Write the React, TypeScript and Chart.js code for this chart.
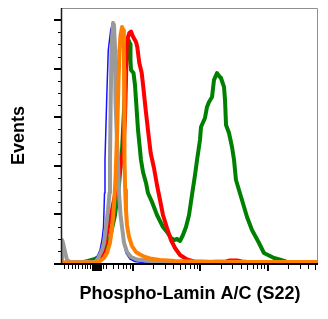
import React, { useEffect, useRef } from "react";
import { Chart, registerables } from "chart.js";

Chart.register(...registerables);

// ---- Data (x in log10 display units of the fluorescence axis, y in % of max events) ----
const blueX = [-0.055, 0.361, 0.406, 0.465, 0.51, 0.54, 0.562, 0.577, 0.584, 0.609, 0.633, 0.669, 0.703, 0.733, 0.748, 0.762, 0.777, 0.792, 0.822, 0.852, 0.896, 0.956, 1.03, 1.179, 3.75];
const blueY = [0, 0, 0.21, 2.47, 5.35, 9.47, 14.82, 28.82, 42.41, 67.12, 87.7, 95.94, 99.23, 95.94, 83.59, 67.12, 46.53, 30.06, 17.71, 9.47, 4.12, 1.65, 0.62, 0, 0];

const grayX = [-0.055, -0.055, -0.04, -0.01, 0.019, 0.064, 0.435, 0.48, 0.54, 0.569, 0.599, 0.629, 0.651, 0.658, 0.669, 0.681, 0.703, 0.718, 0.733, 0.74, 0.762, 0.777, 0.792, 0.815, 0.837, 0.867, 0.911, 0.971, 1.06, 1.253, 1.55, 1.996, 3.75];
const grayY = [0.41, 9.47, 8.24, 4.53, 1.24, 0.41, 0.41, 1.85, 5.35, 8.24, 14.82, 21.82, 28.82, 42.41, 67.12, 87.7, 98.82, 98.0, 87.7, 67.12, 50.65, 42.41, 28.82, 19.76, 14.82, 8.24, 4.53, 2.47, 1.44, 0.82, 0.41, 0.21, 0.21];

const orangeX = [-0.055, 0.435, 0.51, 0.569, 0.614, 0.658, 0.688, 0.718, 0.74, 0.755, 0.77, 0.785, 0.8, 0.815, 0.837, 0.852, 0.864, 0.867, 0.87, 0.874, 0.878, 0.884, 0.896, 0.911, 0.941, 0.985, 1.045, 1.104, 1.179, 1.253, 1.402, 1.625, 1.996, 2.739, 3.75];
const orangeY = [0.21, 0.21, 0.82, 2.06, 4.12, 8.24, 14.41, 23.88, 34.18, 46.53, 58.88, 75.35, 87.7, 93.88, 97.18, 95.94, 89.76, 79.47, 67.12, 54.76, 42.41, 30.06, 21.82, 15.65, 10.71, 7.0, 4.53, 3.5, 2.47, 1.85, 1.24, 0.82, 0.54, 0.41, 0.41];

const redX = [0.406, 0.465, 0.51, 0.554, 0.584, 0.629, 0.688, 0.748, 0.807, 0.852, 0.881, 0.896, 0.907, 0.926, 0.945, 0.971, 0.996, 1.02, 1.045, 1.064, 1.094, 1.13, 1.153, 1.189, 1.228, 1.263, 1.312, 1.357, 1.402, 1.446, 1.506, 1.565, 1.625, 1.699, 1.803, 1.907, 2.145, 2.383, 2.442, 2.546, 2.62, 2.739];
const redY = [0, 0.41, 1.24, 4.12, 8.24, 14.82, 21.82, 30.06, 38.29, 46.53, 58.88, 75.35, 89.76, 93.06, 94.71, 95.32, 93.47, 92.24, 91.0, 88.94, 82.35, 78.24, 72.47, 63.0, 53.53, 45.29, 39.12, 32.12, 25.94, 19.76, 14.41, 9.47, 6.18, 3.29, 1.44, 0.62, 0.41, 0.62, 1.03, 1.03, 0.62, 0.29];

const greenX = [-0.055, 0.213, 0.331, 0.435, 0.51, 0.584, 0.658, 0.733, 0.792, 0.837, 0.867, 0.896, 0.911, 0.933, 0.956, 0.963, 0.971, 1.008, 1.03, 1.045, 1.075, 1.119, 1.149, 1.194, 1.223, 1.283, 1.357, 1.446, 1.506, 1.565, 1.61, 1.654, 1.699, 1.743, 1.788, 1.833, 1.877, 1.922, 1.952, 1.996, 2.011, 2.07, 2.1, 2.13, 2.175, 2.204, 2.249, 2.279, 2.308, 2.353, 2.368, 2.383, 2.427, 2.472, 2.502, 2.531, 2.62, 2.695, 2.769, 2.873, 2.947, 3.096, 3.2, 3.289, 3.378, 3.75];
const greenY = [0, 0.16, 0.82, 1.65, 2.88, 5.35, 10.29, 19.76, 32.12, 46.53, 63.0, 79.47, 88.53, 91.82, 90.17, 83.59, 79.47, 78.24, 73.29, 67.12, 54.76, 42.41, 37.47, 32.94, 28.82, 25.12, 19.76, 14.82, 12.76, 10.29, 9.47, 9.88, 9.06, 11.53, 14.82, 19.76, 28.0, 36.24, 42.41, 50.65, 56.0, 59.71, 64.23, 66.29, 68.35, 75.35, 78.24, 77.0, 76.18, 72.47, 67.12, 56.82, 53.53, 47.76, 42.41, 34.18, 25.94, 18.94, 13.59, 8.24, 4.12, 2.06, 1.24, 0.41, 0, 0];

// ---- Axis ticks ----
const yMajorTicks = [0, 20, 40, 60, 80, 100];
const yMinorTicks = [5, 10, 15, 25, 30, 35, 45, 50, 55, 65, 70, 75, 85, 90, 95];
const xMajorTicks = [0.4, 0.42, 0.44, 0.46, 0.48, 0.5, 0.52, 1, 2, 3];
const xMediumTicks = [1.699, 2.699, 3.699];
const xMinorTicks = [
  -0.02, 0.04, 0.1, 0.14, 0.18, 0.24, 0.28, 0.32, 0.36,
  0.56, 0.602, 0.699, 0.778, 0.845, 0.903, 0.954,
  1.301, 1.477, 1.602, 1.778, 1.845, 1.903, 1.954,
  2.301, 2.477, 2.602, 2.778, 2.845, 2.903, 2.954,
  3.301, 3.477, 3.602,
];

const xTitle = "Phospho-Lamin A/C (S22)";
const yTitle = "Events";
const X_MIN = -0.055;
const X_MAX = 3.75;
const Y_MIN = 0;
const Y_MAX = 105;

const FONT = "Arial, 'Liberation Sans', Helvetica, sans-serif";

function pts(xs: number[], ys: number[]) {
  return xs.map((x, i) => ({ x, y: ys[i] }));
}

const flowAxes = {
  id: "flowAxes",
  afterDatasetsDraw(chart: any) {
    const { ctx, chartArea: a, scales } = chart;
    const xs = scales.x;
    const ys = scales.y;
    ctx.save();
    // top / right frame
    ctx.strokeStyle = "#8f8f8f";
    ctx.lineWidth = 1;
    ctx.beginPath();
    ctx.moveTo(a.left, a.top + 0.5);
    ctx.lineTo(a.right - 0.5, a.top + 0.5);
    ctx.lineTo(a.right - 0.5, a.bottom);
    ctx.stroke();
    // y axis line
    ctx.strokeStyle = "#1a1a1a";
    ctx.lineWidth = 1.5;
    ctx.beginPath();
    ctx.moveTo(a.left - 0.5, a.top);
    ctx.lineTo(a.left - 0.5, a.bottom + 2);
    ctx.stroke();
    // x axis line
    ctx.strokeStyle = "#000";
    ctx.lineWidth = 2;
    ctx.beginPath();
    ctx.moveTo(a.left - 1, a.bottom + 1);
    ctx.lineTo(a.right, a.bottom + 1);
    ctx.stroke();
    // y ticks
    ctx.strokeStyle = "#000";
    ctx.lineWidth = 2;
    for (const v of yMajorTicks) {
      const y = Math.round(ys.getPixelForValue(v)) + (v === 0 ? 1 : 0);
      ctx.beginPath();
      ctx.moveTo(a.left - 8, y);
      ctx.lineTo(a.left - 1, y);
      ctx.stroke();
    }
    ctx.lineWidth = 1;
    for (const v of yMinorTicks) {
      const y = Math.round(ys.getPixelForValue(v)) + 0.5;
      ctx.beginPath();
      ctx.moveTo(a.left - 4, y);
      ctx.lineTo(a.left - 1, y);
      ctx.stroke();
    }
    // x ticks
    const base = a.bottom + 2;
    ctx.lineWidth = 2;
    for (const v of xMajorTicks) {
      const x = Math.round(xs.getPixelForValue(v));
      ctx.beginPath();
      ctx.moveTo(x, base);
      ctx.lineTo(x, base + 6);
      ctx.stroke();
    }
    ctx.lineWidth = 1;
    for (const v of xMediumTicks) {
      const x = Math.round(xs.getPixelForValue(v)) + 0.5;
      ctx.beginPath();
      ctx.moveTo(x, base);
      ctx.lineTo(x, base + 5);
      ctx.stroke();
    }
    for (const v of xMinorTicks) {
      const x = Math.round(xs.getPixelForValue(v)) + 0.5;
      ctx.beginPath();
      ctx.moveTo(x, base);
      ctx.lineTo(x, base + 4);
      ctx.stroke();
    }
    ctx.restore();
  },
};

export default function App() {
  const ref = useRef<HTMLCanvasElement | null>(null);
  useEffect(() => {
    if (!ref.current) return;
    const line = (label: string, xs: number[], ys: number[], color: string, width: number, order: number) => ({
      label,
      data: pts(xs, ys),
      borderColor: color,
      backgroundColor: color,
      borderWidth: width,
      pointRadius: 0,
      fill: false,
      tension: 0,
      order,
      borderJoinStyle: "round" as const,
      borderCapStyle: "round" as const,
    });
    const chart = new Chart(ref.current, {
      type: "line",
      data: {
        datasets: [
          line("Isotype", orangeX, orangeY, "#ff8000", 4, 0),
          line("Unstained", grayX, grayY, "#9a9a9a", 4, 1),
          line("Blank", blueX, blueY, "#1414ff", 1.5, 2),
          line("Treated 1", redX, redY, "#ff0000", 4, 3),
          line("Treated 2", greenX, greenY, "#008000", 4, 4),
        ],
      },
      options: {
        responsive: false,
        animation: false,
        devicePixelRatio: 1,
        parsing: true,
        layout: { padding: { top: 8, right: 10, left: 0, bottom: 0 } },
        plugins: { legend: { display: false }, tooltip: { enabled: false } },
        scales: {
          x: {
            type: "linear",
            min: X_MIN,
            max: X_MAX,
            grid: { display: false, drawTicks: false, tickLength: 0 },
            border: { display: false },
            ticks: { display: false },
            title: {
              display: true,
              text: xTitle,
              color: "#000",
              font: { family: FONT, size: 18, weight: "bold" },
              padding: { top: 20.2, bottom: 14.2 },
            },
          },
          y: {
            type: "linear",
            min: Y_MIN,
            max: Y_MAX,
            grid: { display: false, drawTicks: false, tickLength: 0 },
            border: { display: false },
            ticks: { display: false },
            title: {
              display: true,
              text: yTitle,
              color: "#000",
              font: { family: FONT, size: 18, weight: "bold" },
              padding: { top: 8.2, bottom: 32.2 },
            },
          },
        },
      },
      plugins: [flowAxes],
    });
    return () => chart.destroy();
  }, []);
  return (
    <div style={{ position: "absolute", left: 0, top: 0, width: 328, height: 319, background: "#fff" }}>
      <canvas ref={ref} width={328} height={319} style={{ display: "block" }} />
    </div>
  );
}
